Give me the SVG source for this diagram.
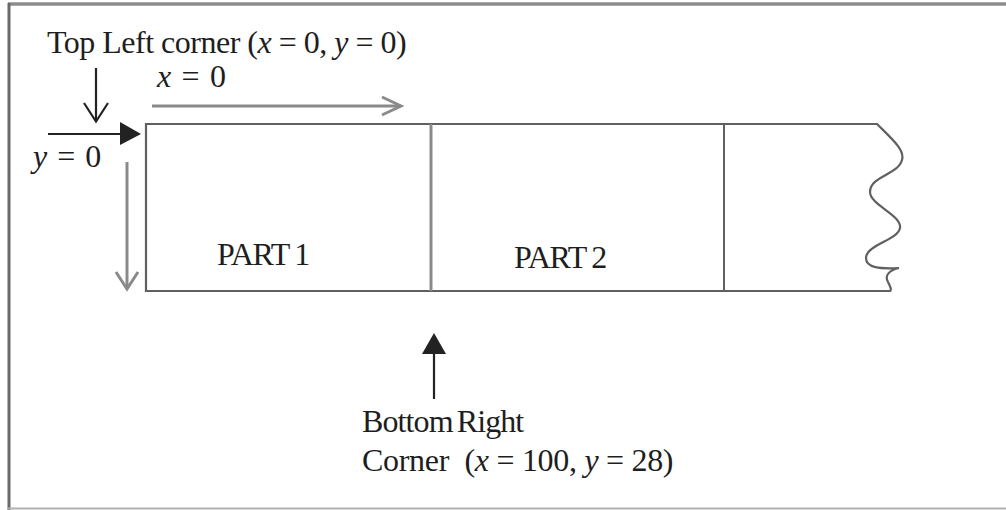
<svg xmlns="http://www.w3.org/2000/svg" width="1006" height="510" viewBox="0 0 1006 510">
<style>
text{font-family:"Liberation Serif","Times New Roman",serif;font-size:32px;fill:#1e1e1e}
.it{font-style:italic}
.blk{stroke:#222;stroke-width:2.2;fill:none}
.gry{stroke:#8a8a8a;stroke-width:3;fill:none}
.box{stroke:#606060;stroke-width:2.2;fill:none}
</style>
<rect width="1006" height="510" fill="#fff"/>
<g id="frame">
<line x1="8" y1="4" x2="1006" y2="4" stroke="#8c8c8c" stroke-width="3.5"/>
<line x1="9" y1="3" x2="9" y2="510" stroke="#6a6a6a" stroke-width="3"/>
<line x1="8" y1="508.5" x2="1006" y2="508.5" stroke="#b0b0b0" stroke-width="2"/>
</g>
<g id="strip">
<path class="box" d="M146,124 H877 C893,140 905,150 902,160 C898,175 870,176 870,192 C870,205 902,215 900,228 C898,240 866,245 866,258 C866,268 880,269 899,268 C890,270 884,275 888,282 C890,286 892,290 890,291 H146 Z"/>
</g>
<g id="divider1"><line x1="431" y1="124" x2="431" y2="291" stroke="#8a8a8a" stroke-width="3"/></g>
<g id="divider2"><line x1="724" y1="124" x2="724" y2="291" stroke="#606060" stroke-width="2"/></g>
<g id="part1"><text x="217" y="265" letter-spacing="-1.2" word-spacing="-1">PART 1</text></g>
<g id="part2"><text x="514" y="268" letter-spacing="-1.2" word-spacing="-1">PART 2</text></g>
<g id="label-topleft"><text x="47" y="53" letter-spacing="-0.5">Top Left corner (<tspan class="it">x</tspan> = 0, <tspan class="it">y</tspan> = 0)</text></g>
<g id="label-x"><text x="157" y="87" letter-spacing="1.2"><tspan class="it">x</tspan> = 0</text></g>
<g id="label-y"><text x="33" y="167" letter-spacing="1"><tspan class="it">y</tspan> = 0</text></g>
<g id="label-bottomright">
<text x="362" y="432" letter-spacing="-0.9" word-spacing="-3">Bottom Right</text>
<text x="362" y="471" letter-spacing="-0.3" xml:space="preserve">Corner  (<tspan class="it">x</tspan> = 100, <tspan class="it">y</tspan> = 28)</text>
</g>
<g id="connectors">
<line class="blk" x1="96" y1="68" x2="96" y2="121"/>
<polyline class="blk" points="84,103 96,121.5 108,103"/>
<line class="blk" x1="48" y1="134" x2="122" y2="134"/>
<polygon points="120,122 141,134 120,145" fill="#222"/>
<line class="gry" x1="152" y1="106" x2="401" y2="106"/>
<polyline class="gry" points="382,97 401,106 382,115"/>
<line class="gry" x1="127" y1="162" x2="127" y2="289"/>
<polyline class="gry" points="116,272 127,289 138,272"/>
<line class="blk" x1="434" y1="399" x2="434" y2="352"/>
<polygon points="422,354 434,333 446,354" fill="#222"/>
</g>
</svg>
